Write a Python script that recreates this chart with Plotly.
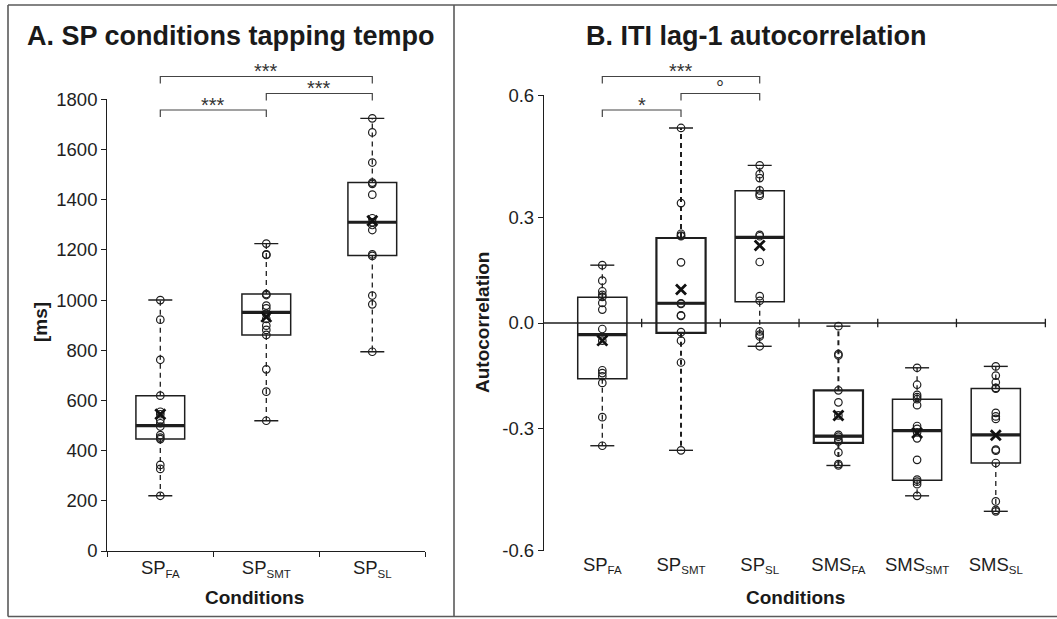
import plotly.graph_objects as go

W, H = 1057, 619
INK = "#1e1e1e"
FONT = "Liberation Sans, Arial, Helvetica, sans-serif"


def sub(main, s):
    return f"{main}<sub><span style='font-size:11.5px'>{s}</span></sub>"


# ---------------- data: panel A (tapping tempo, ms) ----------------
cats_a = [sub("SP", "FA"), sub("SP", "SMT"), sub("SP", "SL")]
tempo_points = [
    [1000, 922, 762, 619, 555, 545, 522, 509, 496, 462, 452, 446, 343, 327, 220],
    [1225, 1182, 1180, 1024, 1020, 978, 967, 945, 925, 898, 881, 861, 724, 635, 519],
    [1724, 1668, 1548, 1468, 1463, 1420, 1326, 1310, 1299, 1279, 1182, 1176, 1018, 983, 794],
]
tempo_min = [220, 519, 794]
tempo_q1 = [446, 861, 1178]
tempo_median = [500, 951, 1310]
tempo_q3 = [619, 1024, 1468]
tempo_max = [1000, 1225, 1724]
tempo_mean = [545, 933, 1316]
tempo_ticks = [0, 200, 400, 600, 800, 1000, 1200, 1400, 1600, 1800]

# ---------------- data: panel B (ITI lag-1 autocorrelation) ----------------
cats_b = [sub("SP", "FA"), sub("SP", "SMT"), sub("SP", "SL"),
          sub("SMS", "FA"), sub("SMS", "SMT"), sub("SMS", "SL")]
ac_points = [
    [0.164, 0.120, 0.090, 0.080, 0.074, 0.057, 0.038, -0.017, -0.050, -0.134, -0.142, -0.151, -0.170, -0.267, -0.348],
    [0.553, 0.340, 0.253, 0.248, 0.246, 0.172, 0.056, 0.054, 0.022, 0.020, -0.026, -0.050, -0.112, -0.361],
    [0.447, 0.422, 0.411, 0.376, 0.366, 0.361, 0.250, 0.246, 0.173, 0.076, 0.063, -0.024, -0.033, -0.038, -0.066],
    [-0.009, -0.088, -0.092, -0.191, -0.225, -0.262, -0.317, -0.322, -0.331, -0.336, -0.367, -0.400, -0.404],
    [-0.127, -0.175, -0.204, -0.210, -0.216, -0.233, -0.292, -0.300, -0.310, -0.327, -0.388, -0.444, -0.450, -0.457, -0.490],
    [-0.123, -0.149, -0.168, -0.184, -0.186, -0.255, -0.265, -0.272, -0.359, -0.362, -0.397, -0.506, -0.530, -0.534],
]
ac_min = [-0.348, -0.361, -0.066, -0.404, -0.490, -0.534]
ac_q1 = [-0.158, -0.028, 0.060, -0.340, -0.446, -0.397]
ac_median = [-0.033, 0.056, 0.243, -0.321, -0.305, -0.317]
ac_q3 = [0.073, 0.241, 0.375, -0.191, -0.216, -0.186]
ac_max = [0.164, 0.553, 0.447, -0.009, -0.127, -0.123]
ac_mean = [-0.050, 0.095, 0.220, -0.262, -0.312, -0.318]
ac_tick_labels = ["-0.6", "-0.3", "0.0", "0.3", "0.6"]
ac_tick_pos = [-0.646, -0.3, 0.0, 0.3, 0.646]

# significance comparisons (category index pairs) and labels
sig_pairs_a = [(1, 2), (2, 3), (1, 3)]
sig_labels_a = ["***", "***", "***"]
sig_pairs_b = [(1, 2), (2, 3), (1, 3)]
sig_labels_b = ["*", "°", "***"]

# ---------------- geometry ----------------
def px_x(px):
    return px / W


def px_y(py):
    return 1 - py / H


A_XR = [0.5, 3.5]
A_YR = [0, 1800]
B_XR = [0.259, 6.68]
B_YR = [-0.6465, 0.6465]
dom_ax = [px_x(107.3), px_x(425.3)]
dom_ay = [px_y(551.0), px_y(99.3)]
dom_bx = [px_x(544.0), px_x(1049.3)]
dom_by = [px_y(551.0), px_y(95.0)]


def to_paper(v, dom, rng):
    return dom[0] + (v - rng[0]) / (rng[1] - rng[0]) * (dom[1] - dom[0])


A_PX_PER_UNIT = (dom_ax[1] - dom_ax[0]) * W / (A_XR[1] - A_XR[0])
B_PX_PER_UNIT = (dom_bx[1] - dom_bx[0]) * W / (B_XR[1] - B_XR[0])
A_BOX_W = 0.46
B_BOX_W = 0.625
A_LW = [1.5, 1.5, 1.5]
B_LW = [1.5, 2.2, 1.5, 2.2, 1.5, 1.5]

fig = go.Figure()


def add_panel(xa, ya, points, vmin, q1, med, q3, vmax, mean, box_w, px_per_unit, lws):
    n = len(med)
    pos = list(range(1, n + 1))
    for i in range(n):
        p = pos[i]
        fig.add_trace(go.Box(
            x=[p], q1=[q1[i]], median=[med[i]], q3=[q3[i]],
            lowerfence=[q1[i]], upperfence=[q3[i]],
            width=box_w, whiskerwidth=0, boxpoints=False,
            fillcolor="rgba(0,0,0,0)",
            line=dict(color=INK, width=lws[i]),
            xaxis=xa, yaxis=ya, showlegend=False, hoverinfo="skip",
        ))
        # dashed whiskers
        fig.add_trace(go.Scatter(
            x=[p, p, None, p, p], y=[q3[i], vmax[i], None, q1[i], vmin[i]],
            mode="lines", line=dict(color=INK, width=lws[i] - 0.2, dash="5px,4px"),
            xaxis=xa, yaxis=ya, showlegend=False, hoverinfo="skip",
        ))
    # whisker caps
    fig.add_trace(go.Scatter(
        x=pos + pos, y=list(vmax) + list(vmin), mode="markers",
        marker=dict(symbol="line-ew", size=24 / 1.4, color=INK,
                    line=dict(color=INK, width=1.4)),
        xaxis=xa, yaxis=ya, showlegend=False, hoverinfo="skip",
    ))
    # thick medians
    fig.add_trace(go.Scatter(
        x=pos, y=med, mode="markers",
        marker=dict(symbol="line-ew", size=box_w * px_per_unit / 1.4, color=INK,
                    line=dict(color=INK, width=3.2)),
        xaxis=xa, yaxis=ya, showlegend=False, hoverinfo="skip",
    ))
    # individual points
    px_, py_ = [], []
    for i in range(n):
        px_ += [pos[i]] * len(points[i])
        py_ += points[i]
    fig.add_trace(go.Scatter(
        x=px_, y=py_, mode="markers",
        marker=dict(symbol="circle-open", size=7.5, color=INK,
                    line=dict(color=INK, width=1.2)),
        xaxis=xa, yaxis=ya, showlegend=False, hoverinfo="skip",
    ))
    # means
    fig.add_trace(go.Scatter(
        x=pos, y=mean, mode="markers",
        marker=dict(symbol="x-thin", size=10, color="#111111",
                    line=dict(color="#111111", width=2.8)),
        xaxis=xa, yaxis=ya, showlegend=False, hoverinfo="skip",
    ))


add_panel("x", "y", tempo_points, tempo_min, tempo_q1, tempo_median, tempo_q3,
          tempo_max, tempo_mean, A_BOX_W, A_PX_PER_UNIT, A_LW)
add_panel("x2", "y2", ac_points, ac_min, ac_q1, ac_median, ac_q3,
          ac_max, ac_mean, B_BOX_W, B_PX_PER_UNIT, B_LW)

shapes = []
annotations = []

# outer frame and divider
frame = dict(type="line", xref="paper", yref="paper", line=dict(color="#5a5a5a", width=1.6))
shapes.append({**frame, "x0": px_x(8), "x1": 1.0, "y0": px_y(5), "y1": px_y(5)})
shapes.append({**frame, "x0": px_x(8), "x1": 1.0, "y0": px_y(616.5), "y1": px_y(616.5)})
shapes.append({**frame, "x0": px_x(8), "x1": px_x(8), "y0": px_y(5), "y1": px_y(616.5)})
shapes.append({**frame, "x0": px_x(454), "x1": px_x(454), "y0": px_y(5), "y1": px_y(616.5)})

# zero line with ticks in panel B
b_axis_end = 6.63
shapes.append(dict(type="line", xref="x2", yref="y2", x0=B_XR[0], x1=b_axis_end, y0=0, y1=0,
                   line=dict(color=INK, width=1.3), layer="below"))
for t in [1.5, 2.5, 3.5, 4.5, 5.5, b_axis_end]:
    shapes.append(dict(type="line", xref="x2", yref="y2", x0=t, x1=t, y0=-0.012, y1=0.012,
                       line=dict(color=INK, width=1.3), layer="below"))

# significance brackets (rows in pixels from the top)
row_px = [110.0, 93.5, 76.5]
drop_px = 7.0


def add_brackets(pairs, labels, dom, rng):
    for k, ((a, b), lab) in enumerate(zip(pairs, labels)):
        xa_ = to_paper(a, dom, rng)
        xb_ = to_paper(b, dom, rng)
        yl = px_y(row_px[k])
        yd = px_y(row_px[k] + drop_px)
        shapes.append(dict(type="path", xref="paper", yref="paper",
                           path=f"M{xa_},{yd} L{xa_},{yl} L{xb_},{yl} L{xb_},{yd}",
                           line=dict(color="#444444", width=1.2)))
        annotations.append(dict(xref="paper", yref="paper", x=(xa_ + xb_) / 2,
                                y=px_y(row_px[k] - 5.5), text=lab, showarrow=False,
                                xanchor="center", yanchor="middle",
                                font=dict(family=FONT, size=20, color="#333333")))


add_brackets(sig_pairs_a, sig_labels_a, dom_ax, A_XR)
add_brackets(sig_pairs_b, sig_labels_b, dom_bx, B_XR)

# titles
annotations.append(dict(xref="paper", yref="paper", x=px_x(231), y=px_y(36),
                        text="<b>A. SP conditions tapping tempo</b>", showarrow=False,
                        xanchor="center", yanchor="middle",
                        font=dict(family=FONT, size=27, color="#1a1a1a")))
annotations.append(dict(xref="paper", yref="paper", x=px_x(756), y=px_y(36),
                        text="<b>B. ITI lag-1 autocorrelation</b>", showarrow=False,
                        xanchor="center", yanchor="middle",
                        font=dict(family=FONT, size=27, color="#1a1a1a")))
# axis titles
axis_title_font = dict(family=FONT, size=19, color="#1a1a1a")
annotations.append(dict(xref="paper", yref="paper", x=px_x(254), y=px_y(597),
                        text="<b>Conditions</b>", showarrow=False,
                        xanchor="center", yanchor="middle", font=axis_title_font))
annotations.append(dict(xref="paper", yref="paper", x=px_x(795), y=px_y(597),
                        text="<b>Conditions</b>", showarrow=False,
                        xanchor="center", yanchor="middle", font=axis_title_font))
annotations.append(dict(xref="paper", yref="paper", x=px_x(40), y=px_y(322),
                        text="<b>[ms]</b>", showarrow=False, textangle=-90,
                        xanchor="center", yanchor="middle", font=axis_title_font))
annotations.append(dict(xref="paper", yref="paper", x=px_x(482), y=px_y(323),
                        text="<b>Autocorrelation</b>", showarrow=False, textangle=-90,
                        xanchor="center", yanchor="middle", font=axis_title_font))

tick_font = dict(family=FONT, size=18.5, color="#1e1e1e")
axis_common = dict(showgrid=False, zeroline=False, fixedrange=True, tickfont=tick_font,
                   automargin=False)

fig.update_layout(
    template="none",
    width=W, height=H, autosize=False,
    margin=dict(l=0, r=0, t=0, b=0, pad=0, autoexpand=False),
    paper_bgcolor="white", plot_bgcolor="white",
    font=dict(family=FONT, color=INK),
    showlegend=False,
    xaxis=dict(domain=dom_ax, range=A_XR, anchor="y", tickmode="array",
               tickvals=[1, 2, 3], ticktext=cats_a, ticks="",
               showline=True, linecolor=INK, linewidth=1.3,
               minor=dict(tickmode="array", tickvals=[0.5, 1.5, 2.5, 3.5], ticks="outside",
                          ticklen=5, tickwidth=1.3, tickcolor=INK),
               **axis_common),
    yaxis=dict(domain=dom_ay, range=A_YR, anchor="x", tickmode="array",
               tickvals=tempo_ticks, ticks="outside", ticklen=5, tickwidth=1.3,
               tickcolor=INK, showline=True, linecolor=INK, linewidth=1.3,
               **axis_common),
    xaxis2=dict(domain=dom_bx, range=B_XR, anchor="y2", tickmode="array",
                tickvals=[1, 2, 3, 4, 5, 6], ticktext=cats_b, ticks="",
                showline=False, **axis_common),
    yaxis2=dict(domain=dom_by, range=B_YR, anchor="x2", tickmode="array",
                tickvals=ac_tick_pos, ticktext=ac_tick_labels, ticks="outside",
                ticklen=5, tickwidth=1.3, tickcolor=INK,
                showline=True, linecolor=INK, linewidth=1.3, **axis_common),
    shapes=shapes,
    annotations=annotations,
)

fig.write_html("out.html")
